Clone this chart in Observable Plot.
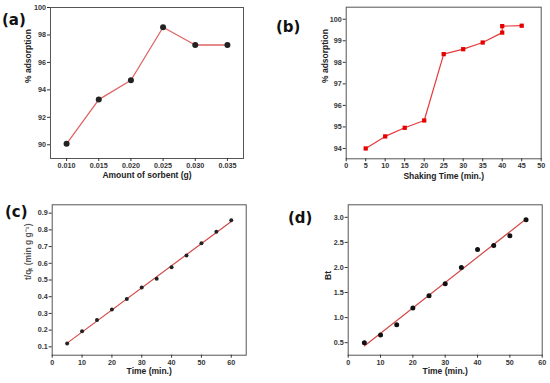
<!DOCTYPE html>
<html><head><meta charset="utf-8">
<script src="https://cdn.jsdelivr.net/npm/d3@7"></script>
<script src="https://cdn.jsdelivr.net/npm/@observablehq/plot@0.6"></script>
<style>
body{margin:0;background:#fff;}
#fig{position:relative;width:550px;height:383px;overflow:hidden;background:#fff;}
.p{position:absolute;}
.lab{position:absolute;font-family:"DejaVu Sans",sans-serif;font-weight:bold;font-size:15px;line-height:16px;color:#111;}
</style></head><body><div id="fig"></div>
<script>
// Panel (a)
const aSorbent = [0.010, 0.015, 0.020, 0.025, 0.030, 0.035];
const aAdsorption = [90.07, 93.29, 94.7, 98.56, 97.27, 97.27];
const aXTicks = [0.010, 0.015, 0.020, 0.025, 0.030, 0.035];
const aYTicks = [90, 92, 94, 96, 98, 100];
// Panel (b)
const bTime = [5, 10, 15, 20, 25, 30, 35, 40, 40, 45];
const bAdsorption = [94.0, 94.56, 94.96, 95.3, 98.38, 98.61, 98.92, 99.38, 99.68, 99.7];
const bXTicks = [0, 5, 10, 15, 20, 25, 30, 35, 40, 45, 50];
const bYTicks = [94, 95, 96, 97, 98, 99, 100];
// Panel (c)
const cTime = [5, 10, 15, 20, 25, 30, 35, 40, 45, 50, 55, 60];
const cTq = [0.12, 0.193, 0.261, 0.323, 0.387, 0.455, 0.507, 0.577, 0.647, 0.72, 0.788, 0.858];
const cXTicks = [0, 10, 20, 30, 40, 50, 60];
const cYTicks = [0.1, 0.2, 0.3, 0.4, 0.5, 0.6, 0.7, 0.8, 0.9];
// Panel (d)
const dTime = [5, 10, 15, 20, 25, 30, 35, 40, 45, 50, 55];
const dBt = [0.5, 0.652, 0.858, 1.19, 1.436, 1.677, 1.997, 2.36, 2.44, 2.635, 2.954];
const dXTicks = [0, 10, 20, 30, 40, 50, 60];
const dYTicks = [0.5, 1.0, 1.5, 2.0, 2.5, 3.0];

const fig = document.getElementById("fig");
const rec = (xs, ys) => xs.map((x, i) => ({x, y: ys[i]}));

function panel(o) {
  const svg = Plot.plot({
    width: o.w, height: o.h,
    marginLeft: o.ml, marginRight: o.mr, marginTop: o.mt, marginBottom: o.mb,
    x: {domain: o.xd}, y: {domain: o.yd},
    style: {fontFamily: "'Liberation Sans', Arial, sans-serif", fontWeight: "bold", color: "#333", background: "transparent", overflow: "visible"},
    marks: [
      Plot.frame({stroke: "#555", strokeWidth: 1}),
      Plot.axisX({ticks: o.xt, tickFormat: o.xf, tickSize: 3, tickPadding: 1.5, fontSize: 7.2, label: null}),
      Plot.axisY({ticks: o.yt, tickFormat: o.yf, tickSize: 3, tickPadding: 1.5, fontSize: 7.2, label: null}),
      ...o.marks,
      Plot.text([o.xl], {text: d => d, frameAnchor: "bottom", dy: o.xlo, fontSize: 8.5, fill: "#222"}),
      Plot.text([o.yl], {text: d => d, frameAnchor: "left", rotate: -90, dx: -o.ylo, fontSize: 8.5, fill: o.ylc || "#222"})
    ]
  });
  svg.classList.add("p");
  svg.style.left = o.left + "px";
  svg.style.top = o.top + "px";
  fig.append(svg);
}

function label(t, left, top) {
  const d = document.createElement("div");
  d.className = "lab"; d.textContent = t;
  d.style.left = left + "px"; d.style.top = top + "px";
  fig.append(d);
}

const aData = rec(aSorbent, aAdsorption);
panel({left: 0, top: 0, w: 275, h: 190, ml: 50, mr: 32, mt: 7, mb: 32,
  xd: [0.0075, 0.0375], yd: [89, 100], xt: aXTicks, yt: aYTicks, xf: d3.format(".3f"), yf: d3.format("d"),
  xl: "Amount of sorbent (g)", yl: "% adsorption", xlo: 19, ylo: 22,
  marks: [
    Plot.line(aData, {x: "x", y: "y", stroke: "#e06464", strokeWidth: 1.3}),
    Plot.dot(aData, {x: "x", y: "y", r: 3, fill: "#222"})
  ]});

const bData = rec(bTime, bAdsorption);
panel({left: 275, top: 0, w: 275, h: 190, ml: 70.7, mr: 9.3, mt: 6.7, mb: 31.7,
  xd: [0, 50], yd: [93.52, 100.56], xt: bXTicks, yt: bYTicks, xf: d3.format("d"), yf: d3.format("d"),
  xl: "Shaking Time (min.)", yl: "% adsorption", xlo: 20, ylo: 21,
  marks: [
    Plot.line(bData, {x: "x", y: "y", stroke: "#e63a3a", strokeWidth: 1.2}),
    Plot.dot(bData, {x: "x", y: "y", symbol: "square", r: 2.4, fill: "#e60000"})
  ]});

const cData = rec(cTime, cTq);
panel({left: 0, top: 190, w: 275, h: 193, ml: 51.7, mr: 29.3, mt: 14.3, mb: 28.3,
  xd: [0, 65], yd: [0.05, 0.95], xt: cXTicks, yt: cYTicks, xf: d3.format("d"), yf: d3.format(".1f"),
  xl: "Time (min.)", yl: "t/qₜ (min g g⁻¹)", ylc: "#555", xlo: 19, ylo: 23.5,
  marks: [
    Plot.linearRegressionY(cData, {x: "x", y: "y", stroke: "#d24848", strokeWidth: 1.2, ci: 0}),
    Plot.dot(cData, {x: "x", y: "y", r: 2, fill: "#222"})
  ]});

const dData = rec(dTime, dBt);
panel({left: 275, top: 190, w: 275, h: 193, ml: 72.7, mr: 8.3, mt: 14.3, mb: 28.3,
  xd: [0, 60], yd: [0.25, 3.25], xt: dXTicks, yt: dYTicks, xf: d3.format("d"), yf: d3.format(".1f"),
  xl: "Time (min.)", yl: "Bt", xlo: 19, ylo: 19.5,
  marks: [
    Plot.linearRegressionY(dData, {x: "x", y: "y", stroke: "#d24848", strokeWidth: 1.2, ci: 0}),
    Plot.dot(dData, {x: "x", y: "y", r: 2.5, fill: "#111"})
  ]});

label("(a)", 2, 12);
label("(b)", 276, 19);
label("(c)", 5, 204);
label("(d)", 288, 210);
</script>
</body></html>
